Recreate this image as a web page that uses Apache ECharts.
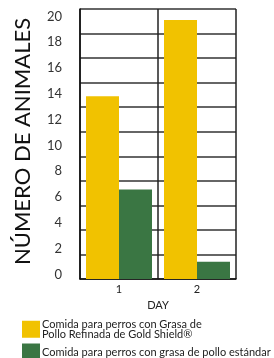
<!DOCTYPE html>
<html><head><meta charset="utf-8">
<script src="https://cdn.jsdelivr.net/npm/echarts@6/dist/echarts.min.js"></script>
<style>html,body{margin:0;padding:0;background:#fff}#c{width:274px;height:358px}</style>
</head><body><div id="c"></div>
<script>
var categories = ['1', '2'];
var refinedValues = [14.9, 21.1];
var standardValues = [7.3, 1.4];
var tickLabels = ['0','2','4','6','8','10','12','14','16','18','20'];
var seriesNames = ['Comida para perros con Grasa de\nPollo Refinada de Gold Shield®', 'Comida para perros con grasa de pollo estándar'];
var yTitle = 'NÚMERO DE ANIMALES';
var xTitle = 'DAY';

var chart = echarts.init(document.getElementById('c'), null, {renderer: 'canvas'});
var font = 'Lato, "Noto Sans", sans-serif';
chart.setOption({
  animation: false,
  textStyle: {fontFamily: font},
  grid: [
    {left: 80, top: 9, width: 156, height: 270},
    {left: 80, top: 16.5, width: 156, height: 258}
  ],
  xAxis: [
    {type: 'category', gridIndex: 0, data: categories,
     axisLine: {lineStyle: {color: '#111', width: 1.5}},
     axisTick: {show: false},
     axisLabel: {color: '#222', fontSize: 11, margin: 5, fontFamily: font},
     splitLine: {show: true, lineStyle: {color: '#222', width: 1.5}},
     name: xTitle, nameLocation: 'middle', nameGap: 21,
     nameTextStyle: {color: '#222', fontSize: 11, fontFamily: font}},
    {type: 'category', gridIndex: 1, data: categories, show: false}
  ],
  yAxis: [
    {type: 'value', gridIndex: 0, min: 0, max: 22, interval: 2,
     axisLine: {show: true, lineStyle: {color: '#111', width: 1.5}},
     axisTick: {show: false}, axisLabel: {show: false},
     splitLine: {show: true, lineStyle: {color: '#333', width: 1.5}}},
    {type: 'value', gridIndex: 1, min: 0, max: 20, interval: 2,
     axisLine: {show: false}, axisTick: {show: false}, splitLine: {show: false},
     axisLabel: {color: '#333', fontSize: 13, margin: 18, fontFamily: font,
       formatter: function (v) { return tickLabels[Math.round(v / 2)]; }}}
  ],
  legend: {
    orient: 'vertical', left: 22, top: 319, height: 80, padding: 0, itemGap: 4,
    itemWidth: 18, itemHeight: 17, icon: 'rect',
    textStyle: {color: '#222', fontSize: 11, lineHeight: 9.5, fontFamily: font, padding: [0, 0, 0, -3]},
    data: seriesNames
  },
  series: [
    {type: 'bar', name: seriesNames[0], data: refinedValues, xAxisIndex: 0, yAxisIndex: 0,
     barWidth: 33, barGap: '0%', itemStyle: {color: '#F1C200'}},
    {type: 'bar', name: seriesNames[1], data: standardValues, xAxisIndex: 0, yAxisIndex: 0,
     barWidth: 33, barGap: '0%', itemStyle: {color: '#3A7643'}}
  ],
  graphic: [
    {type: 'text', x: 23, y: 141.5, rotation: Math.PI / 2,
     style: {text: yTitle, fill: '#111', fontSize: 22, fontFamily: font, align: 'center', verticalAlign: 'middle'}}
  ]
});
</script></body></html>
